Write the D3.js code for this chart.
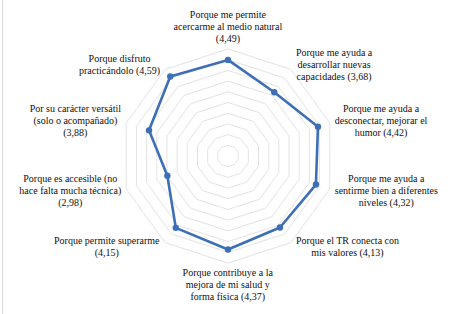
<!DOCTYPE html>
<html>
<head>
<meta charset="utf-8">
<script src="https://cdn.jsdelivr.net/npm/d3@7"></script>
<style>
  html, body { margin: 0; padding: 0; background: #fff; }
  svg { display: block; }
</style>
</head>
<body>
<svg id="chart" width="450" height="314"></svg>
<script>
"use strict";

// motivos (una línea de texto por elemento)
var labels = [
    ["Porque me permite", "acercarme al medio natural", "(4,49)"],
    ["Porque me ayuda a", "desarrollar nuevas", "capacidades  (3,68)"],
    ["Porque me ayuda a", "desconectar, mejorar el", "humor (4,42)"],
    ["Porque me ayuda a", "sentirme bien a diferentes", "niveles (4,32)"],
    ["Porque el TR conecta con", "mis valores (4,13)"],
    ["Porque contribuye a la", "mejora de mi salud y", "forma física (4,37)"],
    ["Porque permite superarme", "(4,15)"],
    ["Porque es accesible (no", "hace falta mucha técnica)", "(2,98)"],
    ["Por su carácter versátil", "(solo o acompañado)", "(3,88)"],
    ["Porque disfruto", "practicándolo (4,59)"]
];
var values = [4.49, 3.68, 4.42, 4.32, 4.13, 4.37, 4.15, 2.98, 3.88, 4.59];
var gridLevels = [0.5, 1, 1.5, 2, 2.5, 3, 3.5, 4, 4.5, 5];

var W = 450, H = 314;
var CX = 228, CY = 156, RADIUS = 107;
var LINE_H = 12;
var FONT = "'Liberation Serif', 'Times New Roman', serif";

var svg = d3.select("#chart");

// borde izquierdo tenue
svg.append("line")
    .attr("x1", 2.5).attr("x2", 2.5)
    .attr("y1", 0).attr("y2", H)
    .attr("stroke", "#dcdcdc");

var angle = d3.scaleLinear()
    .domain([0, values.length])
    .range([0, 2 * Math.PI]);

var r = d3.scaleLinear()
    .domain([0, 5])
    .range([0, RADIUS]);

var chart = svg.append("g")
    .attr("transform", "translate(" + CX + "," + CY + ")");

function point(i, v) {
    var a = angle(i);
    return [r(v) * Math.sin(a), -r(v) * Math.cos(a)];
}

// anillos de la cuadrícula
chart.append("g").attr("class", "grid")
    .selectAll("polygon")
    .data(gridLevels)
    .enter().append("polygon")
    .attr("points", function(lv) {
        return values.map(function(d, i) { return point(i, lv).join(","); }).join(" ");
    })
    .attr("fill", "none")
    .attr("stroke", "#e3e3e3")
    .attr("stroke-width", 1);

// serie
var line = d3.line().curve(d3.curveLinearClosed);
chart.append("path")
    .datum(values.map(function(v, i) { return point(i, v); }))
    .attr("d", line)
    .attr("fill", "none")
    .attr("stroke", "#3d6fb6")
    .attr("stroke-width", 2.6)
    .attr("stroke-linejoin", "round");

chart.append("g").attr("class", "markers")
    .selectAll("circle")
    .data(values)
    .enter().append("circle")
    .attr("cx", function(v, i) { return point(i, v)[0]; })
    .attr("cy", function(v, i) { return point(i, v)[1]; })
    .attr("r", 3.2)
    .attr("fill", "#3d6fb6");

// etiquetas: bloque de texto centrado, colocado junto al vértice exterior
var labelG = chart.append("g").attr("class", "labels");
labels.forEach(function(lines, i) {
    var a = angle(i);
    var s = Math.sin(a), c = Math.cos(a);
    var v = point(i, 5);
    var g = labelG.append("g");
    var t = g.append("text")
        .attr("font-family", FONT)
        .attr("font-size", 10)
        .attr("fill", "#111")
        .attr("text-anchor", "middle");
    lines.forEach(function(txt, k) {
        t.append("tspan")
            .attr("x", 0)
            .attr("y", k * LINE_H)
            .text(txt);
    });
    var bb = t.node().getBBox();
    var bx, by; // centro del bloque
    if (Math.abs(s) < 0.1) {
        bx = v[0];
        by = c > 0 ? v[1] - 4 - bb.height / 2 : v[1] + 4 + bb.height / 2;
    } else {
        bx = v[0] + (s > 0 ? 5 + bb.width / 2 : -5 - bb.width / 2);
        by = v[1] - c * 6;
    }
    g.attr("transform", "translate(" + (bx - (bb.x + bb.width / 2)) + "," + (by - (bb.y + bb.height / 2)) + ")");
});
</script>
</body>
</html>
